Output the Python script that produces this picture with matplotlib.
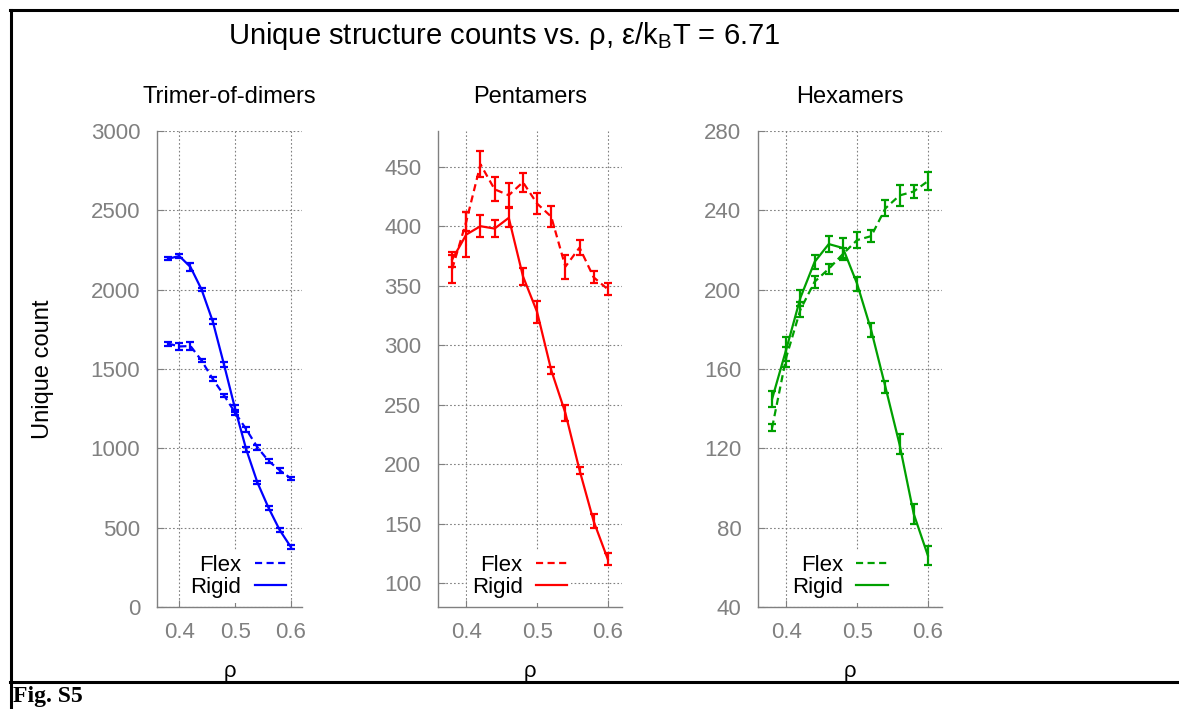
import matplotlib
matplotlib.use('Agg')
import matplotlib.pyplot as plt
from matplotlib.lines import Line2D

plt.rcParams['font.family'] = ['Liberation Sans', 'DejaVu Sans']
plt.rcParams['mathtext.fontset'] = 'custom'
plt.rcParams['mathtext.rm'] = 'Liberation Sans'

rho = [0.38, 0.40, 0.42, 0.44, 0.46, 0.48, 0.50, 0.52, 0.54, 0.56, 0.58, 0.60]

# Trimer-of-dimers
tri_rigid = [2195, 2212, 2143, 2000, 1800, 1530, 1250, 993, 785, 625, 485, 378]
tri_rigid_err = [10, 12, 25, 10, 15, 15, 20, 15, 12, 12, 12, 15]
tri_flex = [1660, 1642, 1645, 1553, 1437, 1335, 1225, 1120, 1007, 920, 862, 810]
tri_flex_err = [12, 25, 25, 12, 12, 10, 15, 15, 15, 10, 15, 12]

# Pentamers
pen_rigid = [372, 393, 400, 398, 407, 358, 328, 279, 243, 195, 152, 120]
pen_rigid_err = [6, 19, 9, 7, 8, 7, 9, 3, 7, 3, 6, 5]
pen_flex = [364, 404, 452, 431, 426, 437, 419, 408, 366, 382, 357, 347]
pen_flex_err = [12, 8, 11, 10, 10, 8, 9, 9, 10, 6, 5, 5]

# Hexamers
hex_rigid = [145, 170, 196, 214, 223, 221, 203, 179.5, 151, 122, 87, 66]
hex_rigid_err = [4, 6, 4, 3.5, 4, 5, 3.5, 3.5, 3, 5, 5, 5]
hex_flex = [130.5, 166, 190, 204, 210.5, 218, 225, 227, 241, 247.5, 249.5, 254.7]
hex_flex_err = [2, 5, 4, 3, 2.5, 3, 4, 3, 4, 5.5, 3.5, 4.5]

panels = [
    ("Trimer-of-dimers", '#0000ff', tri_flex, tri_flex_err, tri_rigid, tri_rigid_err,
     (0, 3000), [0, 500, 1000, 1500, 2000, 2500, 3000]),
    ("Pentamers", '#ff0000', pen_flex, pen_flex_err, pen_rigid, pen_rigid_err,
     (80, 480), [100, 150, 200, 250, 300, 350, 400, 450]),
    ("Hexamers", '#00a000', hex_flex, hex_flex_err, hex_rigid, hex_rigid_err,
     (40, 280), [40, 80, 120, 160, 200, 240, 280]),
]

W, H = 1179, 709
fig = plt.figure(figsize=(W / 100, H / 100), dpi=100)

# axes boxes in pixels: left, right
boxes = [(157, 302), (438, 622), (758, 942)]
leg_x = [0.559, 0.442, 0.445]
top_px, bot_px = 131, 607
gray = '#808080'

for (title, col, fl, fle, rg, rge, ylim, yt), (l, r), lx in zip(panels, boxes, leg_x):
    ax = fig.add_axes([l / W, 1 - bot_px / H, (r - l) / W, (bot_px - top_px) / H])
    ax.errorbar(rho, fl, yerr=fle, color=col, lw=1.6, dashes=(3.2, 2), capsize=2.8,
                elinewidth=1.6, capthick=1.6, label='Flex')
    ax.errorbar(rho, rg, yerr=rge, color=col, lw=1.6, capsize=2.8,
                elinewidth=1.6, capthick=1.6, label='Rigid')
    ax.set_xlim(0.36, 0.62)
    ax.set_ylim(*ylim)
    ax.set_xticks([0.4, 0.5, 0.6])
    ax.set_xticklabels(['0.4', '0.5', '0.6'])
    ax.set_yticks(yt)
    ax.grid(True, color=gray, linestyle=(0, (1.5, 2)), lw=0.8)
    ax.set_axisbelow(True)
    for s in ['top', 'right']:
        ax.spines[s].set_visible(False)
    for s in ['left', 'bottom']:
        ax.spines[s].set_color(gray)
        ax.spines[s].set_linewidth(1.0)
    ax.tick_params(direction='in', length=5, color=gray, labelcolor=gray, labelsize=16)
    ax.tick_params(axis='y', pad=12)
    ax.tick_params(axis='x', pad=11)
    ax.set_xlabel('ρ', fontsize=16, labelpad=13)
    ax.set_title(title, fontsize=17, pad=20)
    lab = ['Flex', 'Rigid']
    h = [Line2D([], [], color=col, lw=1.6, dashes=(3.2, 2)), Line2D([], [], color=col, lw=1.6)]
    leg = ax.legend(h, lab, loc='center', bbox_to_anchor=(lx, 0.064), fontsize=16,
                    markerfirst=False, frameon=True, handlelength=1.4, handletextpad=0.6,
                    labelspacing=0.05, borderpad=0.2, borderaxespad=0)
    leg.get_frame().set_facecolor('white')
    leg.get_frame().set_edgecolor('none')
    leg.get_frame().set_alpha(1)

fig.text(43 / W, 1 - 369 / H, 'Unique count', rotation=90, ha='center', va='center', fontsize=17)
fig.text(504 / W, 1 - 36 / H, r'Unique structure counts vs. ρ, ε/k$_{\mathrm{B}}$T = 6.71',
         ha='center', va='center', fontsize=21)
fig.text(13 / W, 1 - 707 / H, 'Fig. S5', ha='left', va='bottom', fontsize=17,
         fontweight='bold', family='Liberation Serif')

# page border lines
fig.add_artist(Line2D([10 / W, 1], [1 - 10 / H, 1 - 10 / H], color='black', lw=2.2))
fig.add_artist(Line2D([10 / W, 1], [1 - 682 / H, 1 - 682 / H], color='black', lw=2.2))
fig.add_artist(Line2D([11 / W, 11 / W], [0, 1 - 10 / H], color='black', lw=2.2))

fig.savefig('out.png', dpi=100)
